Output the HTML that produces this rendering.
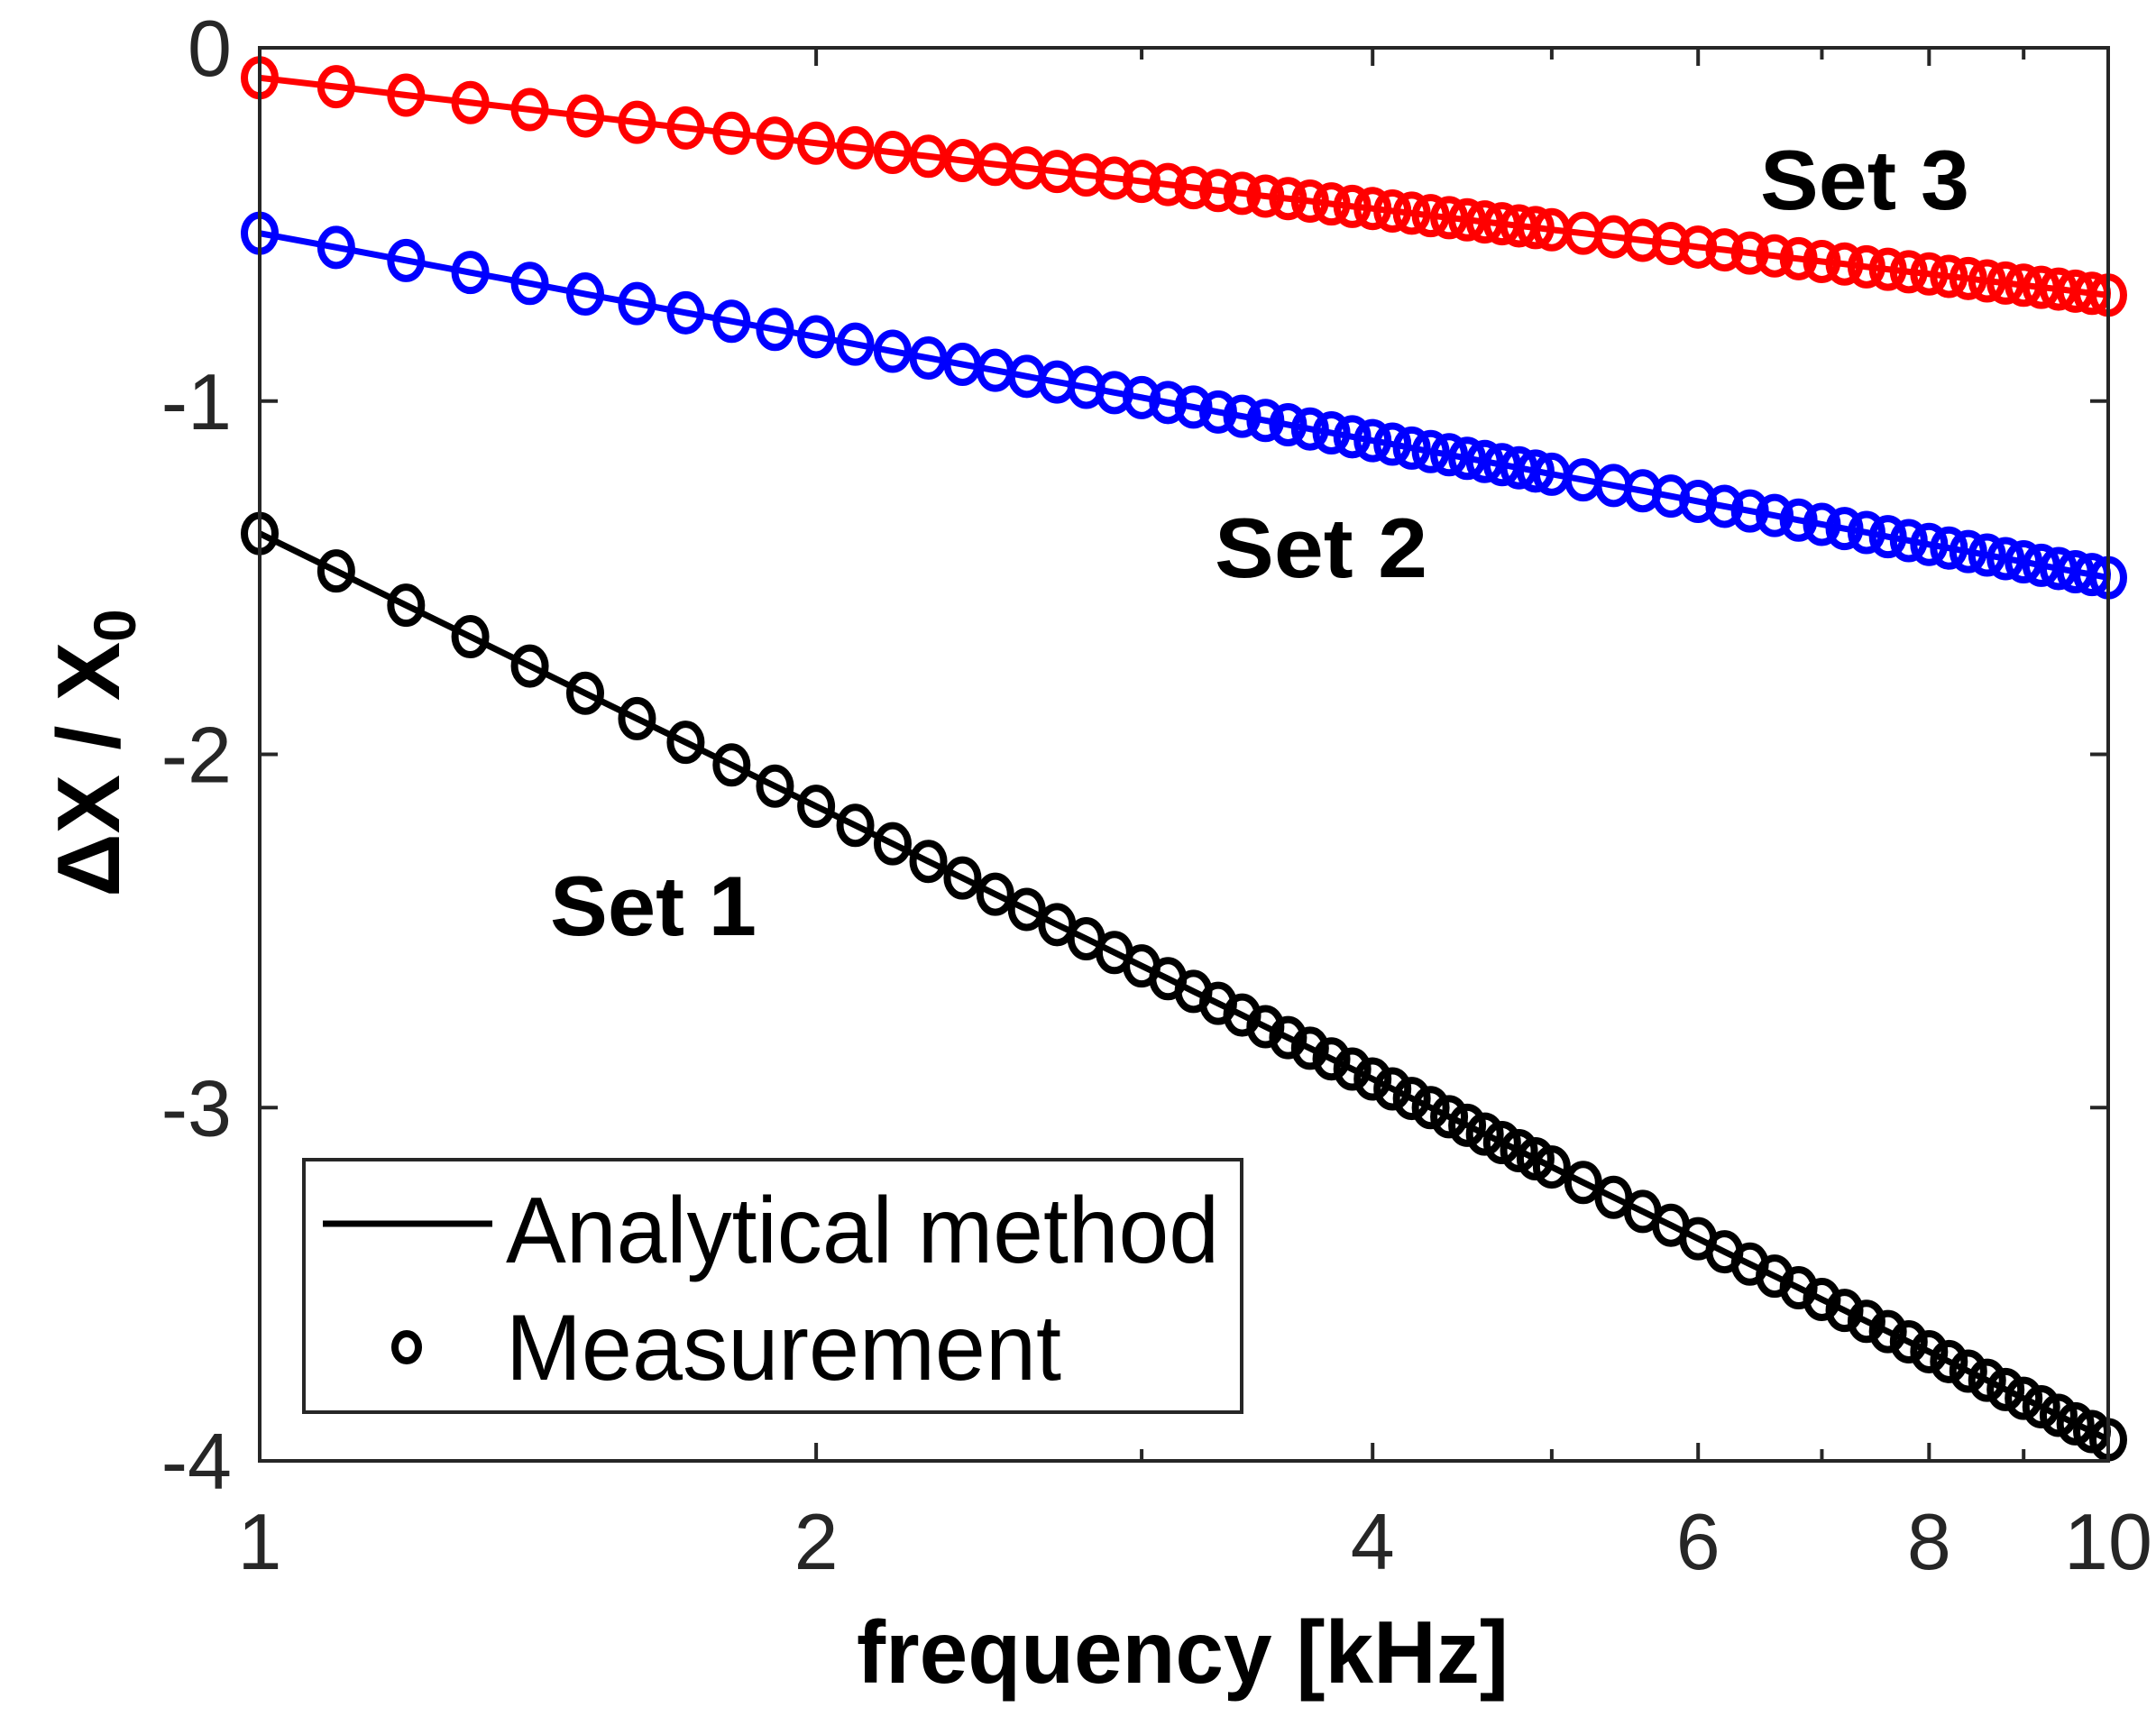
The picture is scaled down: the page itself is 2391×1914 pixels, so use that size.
<!DOCTYPE html>
<html><head><meta charset="utf-8"><style>
html,body{margin:0;padding:0;background:#fff;}
svg{display:block;font-family:"Liberation Sans",Arial,sans-serif;}
</style></head><body>
<svg id="chart" width="2391" height="1914" viewBox="0 0 2391 1914" xmlns="http://www.w3.org/2000/svg">
<rect x="0" y="0" width="2391" height="1914" fill="#fff"/>
<g id="ticks"></g>
<g id="series"></g>
<rect x="288" y="53" width="2050" height="1567" fill="none" stroke="#262626" stroke-width="4"/>
<text x="1952" y="232" font-size="94" font-weight="bold" textLength="232" lengthAdjust="spacingAndGlyphs">Set 3</text>
<text x="1347" y="640" font-size="94" font-weight="bold" textLength="236" lengthAdjust="spacingAndGlyphs">Set 2</text>
<text x="610" y="1037" font-size="94" font-weight="bold" textLength="229" lengthAdjust="spacingAndGlyphs">Set 1</text>
<text x="950" y="1866" font-size="98" font-weight="bold" textLength="723" lengthAdjust="spacingAndGlyphs">frequency [kHz]</text>
<g transform="translate(132,835) rotate(-90)">
<text x="0" y="0" font-size="98" font-weight="bold" text-anchor="middle">ΔX / X<tspan font-size="66" dy="18">0</tspan></text>
</g>
<g>
<rect x="337" y="1286" width="1040" height="280" fill="#fff" stroke="#262626" stroke-width="4"/>
<line x1="358" y1="1357" x2="546" y2="1357" stroke="#000" stroke-width="7"/>
<text x="561" y="1400" font-size="104" textLength="791" lengthAdjust="spacingAndGlyphs">Analytical method</text>
<ellipse cx="451" cy="1494" rx="13" ry="15" fill="none" stroke="#000" stroke-width="8"/>
<text x="561" y="1530" font-size="104" textLength="616" lengthAdjust="spacingAndGlyphs">Measurement</text>
</g>
</svg>
<script>
const freqs = [1.0,1.1,1.2,1.3,1.4,1.5,1.6,1.7,1.8,1.9,2.0,2.1,2.2,2.3,2.4,2.5,2.6,2.7,2.8,2.9,3.0,3.1,3.2,3.3,3.4,3.5,3.6,3.7,3.8,3.9,4.0,4.1,4.2,4.3,4.4,4.5,4.6,4.7,4.8,4.9,5.0,5.2,5.4,5.6,5.8,6.0,6.2,6.4,6.6,6.8,7.0,7.2,7.4,7.6,7.8,8.0,8.2,8.4,8.6,8.8,9.0,9.2,9.4,9.6,9.8,10.0];
const set1 = [-1.375,-1.481,-1.578,-1.667,-1.750,-1.827,-1.899,-1.966,-2.030,-2.090,-2.147,-2.201,-2.253,-2.303,-2.350,-2.396,-2.439,-2.482,-2.522,-2.561,-2.599,-2.635,-2.671,-2.705,-2.738,-2.771,-2.802,-2.832,-2.862,-2.891,-2.919,-2.947,-2.974,-3.000,-3.026,-3.050,-3.075,-3.099,-3.122,-3.145,-3.168,-3.212,-3.254,-3.294,-3.333,-3.371,-3.408,-3.443,-3.477,-3.510,-3.543,-3.574,-3.605,-3.634,-3.663,-3.691,-3.719,-3.746,-3.772,-3.798,-3.823,-3.847,-3.871,-3.895,-3.917,-3.940];
const set2 = [-0.525,-0.565,-0.602,-0.636,-0.667,-0.697,-0.724,-0.750,-0.774,-0.797,-0.818,-0.839,-0.859,-0.878,-0.896,-0.913,-0.930,-0.946,-0.961,-0.976,-0.990,-1.004,-1.017,-1.031,-1.043,-1.055,-1.067,-1.079,-1.090,-1.101,-1.112,-1.122,-1.133,-1.143,-1.152,-1.162,-1.171,-1.180,-1.189,-1.198,-1.207,-1.223,-1.239,-1.254,-1.269,-1.284,-1.298,-1.311,-1.324,-1.337,-1.349,-1.361,-1.372,-1.384,-1.395,-1.406,-1.416,-1.426,-1.436,-1.446,-1.455,-1.465,-1.474,-1.483,-1.491,-1.500];
const set3 = [-0.085,-0.110,-0.134,-0.155,-0.175,-0.193,-0.211,-0.227,-0.242,-0.256,-0.270,-0.283,-0.296,-0.307,-0.319,-0.330,-0.340,-0.350,-0.360,-0.369,-0.378,-0.387,-0.396,-0.404,-0.412,-0.420,-0.427,-0.434,-0.442,-0.449,-0.455,-0.462,-0.468,-0.475,-0.481,-0.487,-0.493,-0.498,-0.504,-0.509,-0.515,-0.525,-0.535,-0.545,-0.554,-0.564,-0.572,-0.581,-0.589,-0.597,-0.605,-0.612,-0.620,-0.627,-0.634,-0.640,-0.647,-0.653,-0.660,-0.666,-0.672,-0.678,-0.683,-0.689,-0.695,-0.700];
const xTicks = [1,2,3,4,5,6,7,8,9,10];
const xTickLabels = ["1","2","","4","","6","","8","","10"];
const yTicks = [0,-1,-2,-3,-4];
const yTickLabels = ["0","-1","-2","-3","-4"];

const X0=288, X1=2338, Y0=53, Y1=1620;
function xs(f){ return X0 + (Math.log10(f) - 0) / 1 * (X1 - X0); }
function ys(v){ return Y0 + (0 - v) / 4 * (Y1 - Y0); }
const NS="http://www.w3.org/2000/svg";
const tg=document.getElementById('ticks');
const sg=document.getElementById('series');

xTicks.forEach((t,i)=>{
  const x=xs(t);
  const major = xTickLabels[i] !== "";
  const len = major ? 20 : 13;
  [[Y1,Y1-len],[Y0,Y0+len]].forEach(p=>{
    const l=document.createElementNS(NS,'line');
    l.setAttribute('x1',x);l.setAttribute('x2',x);l.setAttribute('y1',p[0]);l.setAttribute('y2',p[1]);
    l.setAttribute('stroke','#262626');l.setAttribute('stroke-width','4');
    
    
    tg.appendChild(l);
  });
  if(major){
    const tx=document.createElementNS(NS,'text');
    tx.setAttribute('x',x);tx.setAttribute('y',1740);
    tx.setAttribute('text-anchor','middle');
    tx.setAttribute('font-size','88');tx.setAttribute('fill','#262626');
    tx.textContent=xTickLabels[i];
    
    
    tg.appendChild(tx);
  }
});
yTicks.forEach((t,i)=>{
  const y=ys(t);
  [[X0,X0+20],[X1,X1-20]].forEach(p=>{
    const l=document.createElementNS(NS,'line');
    l.setAttribute('x1',p[0]);l.setAttribute('x2',p[1]);l.setAttribute('y1',y);l.setAttribute('y2',y);
    l.setAttribute('stroke','#262626');l.setAttribute('stroke-width','4');
    
    
    tg.appendChild(l);
  });
  const tx=document.createElementNS(NS,'text');
  tx.setAttribute('x',257);tx.setAttribute('y',y+31);
  tx.setAttribute('text-anchor','end');
  tx.setAttribute('font-size','88');tx.setAttribute('fill','#262626');
  tx.textContent=yTickLabels[i];
  
  
  tg.appendChild(tx);
});

const seriesList=[[set1,'#000','set1'],[set2,'#0000ff','set2'],[set3,'#ff0000','set3']];
seriesList.forEach(s=>{
  const vals=s[0], col=s[1], nm=s[2];
  const pl=document.createElementNS(NS,'polyline');
  pl.setAttribute('points', freqs.map((f,i)=>xs(f)+','+ys(vals[i])).join(' '));
  pl.setAttribute('fill','none');pl.setAttribute('stroke',col);pl.setAttribute('stroke-width','7');
  
  
  sg.appendChild(pl);
  freqs.forEach((f,i)=>{
    const c=document.createElementNS(NS,'ellipse');
    c.setAttribute('cx',xs(f));c.setAttribute('cy',ys(vals[i]));
    c.setAttribute('rx','17');c.setAttribute('ry','20');
    c.setAttribute('fill','none');c.setAttribute('stroke',col);c.setAttribute('stroke-width','8');
    
    
    sg.appendChild(c);
  });
});
</script>
</body></html>
